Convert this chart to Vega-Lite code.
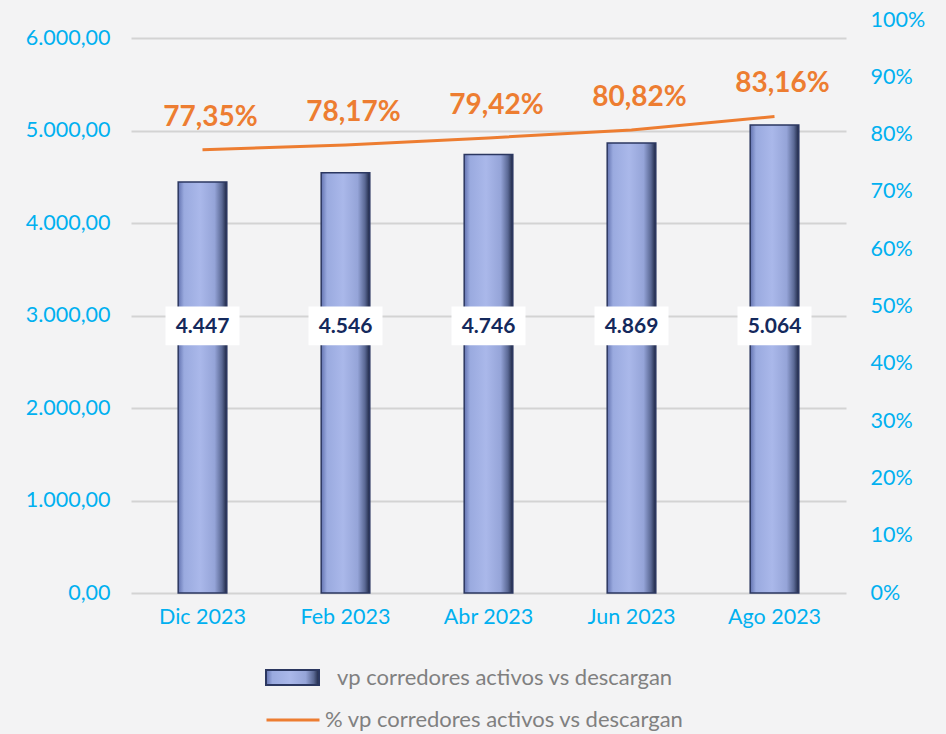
{
  "$schema": "https://vega.github.io/schema/vega-lite/v6.json",
  "width": 715,
  "height": 573,
  "autosize": {"type": "none"},
  "padding": {"left": 131, "top": 20, "right": 100, "bottom": 141},
  "background": "#f3f3f4",
  "config": {
    "font": "Lato",
    "view": {"stroke": null},
    "locale": {
      "number": {"decimal": ",", "thousands": ".", "grouping": [3], "currency": ["", ""]}
    },
    "axis": {
      "labelFont": "Lato",
      "labelFontSize": 21.5,
      "labelColor": "#00B0F0",
      "domain": false,
      "ticks": false,
      "title": null
    },
    "legend": {"padding": 0}
  },
  "data": {
    "values": [
      {"mes": "Dic 2023", "valor": 4447, "pct": 0.7735},
      {"mes": "Feb 2023", "valor": 4546, "pct": 0.7817},
      {"mes": "Abr 2023", "valor": 4746, "pct": 0.7942},
      {"mes": "Jun 2023", "valor": 4869, "pct": 0.8082},
      {"mes": "Ago 2023", "valor": 5064, "pct": 0.8316}
    ]
  },
  "encoding": {
    "x": {
      "field": "mes",
      "type": "nominal",
      "sort": null,
      "scale": {"paddingInner": 0.66, "paddingOuter": 0.33},
      "axis": {"labelAngle": 0, "labelPadding": 13, "grid": false}
    }
  },
  "layer": [
    {
      "layer": [
        {
          "mark": {
            "type": "bar",
            "strokeWidth": 1.5,
            "fill": {
              "gradient": "linear",
              "x1": 0, "x2": 1, "y1": 0, "y2": 0,
              "stops": [
                {"offset": 0, "color": "#6373b0"},
                {"offset": 0.12, "color": "#9aaadf"},
                {"offset": 0.45, "color": "#aab8ea"},
                {"offset": 0.75, "color": "#95a4d8"},
                {"offset": 0.9, "color": "#5a6894"},
                {"offset": 1, "color": "#1c2543"}
              ]
            }
          },
          "encoding": {
            "y": {
              "field": "valor",
              "type": "quantitative",
              "scale": {"domain": [0, 6200], "nice": false},
              "axis": {
                "values": [0, 1000, 2000, 3000, 4000, 5000, 6000],
                "format": ",.2f",
                "grid": true,
                "gridColor": "#d3d3d3",
                "gridWidth": 2,
                "labelPadding": 21
              }
            },
            "stroke": {
              "datum": "vp corredores activos vs descargan",
              "type": "nominal",
              "scale": {"range": ["#2b3760"]},
              "legend": {
                "title": null,
                "orient": "none",
                "legendX": 134,
                "legendY": 630,
                "symbolType": "M-1,-0.28H1V0.28H-1Z",
                "symbolSize": 2809,
                "symbolStrokeWidth": 2,
                "labelOffset": 17,
                "labelFont": "Lato",
                "labelFontSize": 22,
                "labelColor": "#808080",
                "labelLimit": 500,
                "encode": {
                  "symbols": {
                    "update": {
                      "fill": {
                        "value": {
                          "gradient": "linear",
                          "x1": 0, "x2": 0, "y1": 0, "y2": 1,
                          "stops": [
                            {"offset": 0, "color": "#5a6aa6"},
                            {"offset": 0.3, "color": "#b3c0ee"},
                            {"offset": 0.6, "color": "#8696cc"},
                            {"offset": 1, "color": "#3e4c80"}
                          ]
                        }
                      }
                    }
                  }
                }
              }
            }
          }
        },
        {
          "mark": {"type": "bar", "width": 74, "fill": "#ffffff"},
          "encoding": {
            "y": {"datum": 2680, "type": "quantitative"},
            "y2": {"datum": 3100}
          }
        },
        {
          "mark": {"type": "text", "font": "Lato", "fontSize": 21, "fontWeight": "bold", "color": "#14295c", "baseline": "middle"},
          "encoding": {
            "y": {"datum": 2880, "type": "quantitative"},
            "text": {"field": "valor", "type": "quantitative", "format": ",.0f"}
          }
        }
      ]
    },
    {
      "layer": [
        {
          "mark": {"type": "line", "strokeWidth": 3},
          "encoding": {
            "y": {
              "field": "pct",
              "type": "quantitative",
              "scale": {"domain": [0, 1], "nice": false},
              "axis": {
                "orient": "right",
                "values": [0, 0.1, 0.2, 0.3, 0.4, 0.5, 0.6, 0.7, 0.8, 0.9, 1],
                "format": ".0%",
                "grid": false,
                "labelPadding": 24
              }
            },
            "color": {
              "datum": "% vp corredores activos vs descargan",
              "type": "nominal",
              "scale": {"range": ["#ED7D31"]},
              "legend": {
                "title": null,
                "orient": "none",
                "legendX": 134,
                "legendY": 672,
                "symbolType": "stroke",
                "symbolSize": 2809,
                "symbolStrokeWidth": 3,
                "labelOffset": 4,
                "labelFont": "Lato",
                "labelFontSize": 22,
                "labelColor": "#808080",
                "labelLimit": 500
              }
            }
          }
        },
        {
          "mark": {"type": "text", "font": "Lato", "fontSize": 28, "fontWeight": "bold", "color": "#ED7D31", "dx": 8, "dy": -32, "baseline": "middle"},
          "encoding": {
            "y": {"field": "pct", "type": "quantitative"},
            "text": {"field": "pct", "type": "quantitative", "format": ".2%"}
          }
        }
      ]
    }
  ],
  "resolve": {"scale": {"y": "independent"}}
}
